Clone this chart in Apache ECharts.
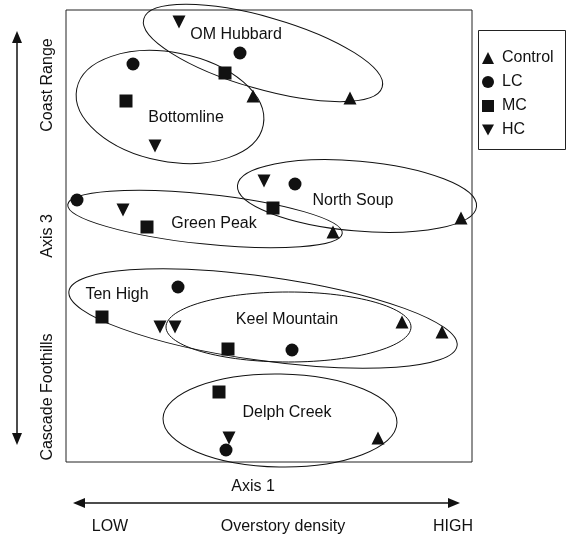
<!DOCTYPE html>
<html>
<head>
<meta charset="utf-8">
<script src="https://cdn.jsdelivr.net/npm/echarts@6/dist/echarts.min.js"></script>
<style>
html,body{margin:0;padding:0;background:#fff;}
#chart{width:566px;height:536px;}
</style>
</head>
<body>
<div id="chart"></div>
<script>
// Sites (order used in all arrays)
var sites = ['OM Hubbard','Bottomline','North Soup','Green Peak','Ten High','Keel Mountain','Delph Creek'];
// Ordination scores: [Axis 1, Axis 3] per site, one array per treatment
var controlPts = [[0.81,1.38],[-0.16,1.40],[1.92,0.18],[0.64,0.04],[1.73,-0.96],[1.33,-0.86],[1.09,-2.02]];
var lcPts      = [[-0.29,1.83],[-1.36,1.72],[0.26,0.52],[-1.92,0.36],[-0.91,-0.51],[0.23,-1.14],[-0.43,-2.14]];
var mcPts      = [[-0.44,1.63],[-1.43,1.35],[0.04,0.28],[-1.22,0.09],[-1.67,-0.81],[-0.41,-1.13],[-0.50,-1.56]];
var hcPts      = [[-0.90,2.14],[-1.14,0.90],[-0.05,0.55],[-1.46,0.26],[-1.09,-0.91],[-0.94,-0.91],[-0.40,-2.02]];
// Site ellipses: centre, semi-axes (data units) and tilt (degrees)
var ellCx    = [-0.06,-0.99,0.88,-0.64,-0.06,0.195,0.11];
var ellCy    = [1.83,1.29,0.40,0.17,-0.825,-0.91,-1.845];
var ellA     = [1.24,0.95,1.20,1.38,1.96,1.225,1.17];
var ellB     = [0.36,0.545,0.35,0.25,0.42,0.35,0.465];
var ellAngle = [-16,-11,-5,-6,-8,0,-1];
// Site label anchor positions
var labelPos = [[-0.33,2.01],[-0.83,1.18],[0.84,0.35],[-0.55,0.12],[-1.52,-0.59],[0.18,-0.84],[0.18,-1.77]];
var treatments = ['Control','LC','MC','HC'];
var axis1Range = [-2.03, 2.03];
var axis3Range = [-2.26, 2.26];

var FONT = '"Liberation Sans", Arial, Helvetica, sans-serif';
var INK = '#111';
var HC_PATH = 'path://M0,0 L10,0 L5,9 Z';

var ellData = sites.map(function(s,i){ return [ellCx[i], ellCy[i], ellA[i], ellB[i], ellAngle[i]]; });
var labelData = sites.map(function(s,i){ return {name:s, value:labelPos[i]}; });

var chart = echarts.init(document.getElementById('chart'), null, {renderer:'canvas'});

function arrowH(x1,x2,y){
  return [
    {type:'line', shape:{x1:x1+6,y1:y,x2:x2-6,y2:y}, style:{stroke:INK,lineWidth:1.5}},
    {type:'polygon', shape:{points:[[x1,y],[x1+12,y-5],[x1+12,y+5]]}, style:{fill:INK}},
    {type:'polygon', shape:{points:[[x2,y],[x2-12,y-5],[x2-12,y+5]]}, style:{fill:INK}}
  ];
}
function arrowV(x,y1,y2){
  return [
    {type:'line', shape:{x1:x,y1:y1+6,x2:x,y2:y2-6}, style:{stroke:INK,lineWidth:1.5}},
    {type:'polygon', shape:{points:[[x,y1],[x-5,y1+12],[x+5,y1+12]]}, style:{fill:INK}},
    {type:'polygon', shape:{points:[[x,y2],[x-5,y2-12],[x+5,y2-12]]}, style:{fill:INK}}
  ];
}
function txt(t,x,y,rot,size){
  return {type:'text', x:x, y:y, rotation:rot||0,
    style:{text:t, fill:INK, font:(size||16)+'px '+FONT, align:'center', verticalAlign:'middle'}};
}

var graphics = []
  .concat(arrowV(17,31,445))
  .concat(arrowH(73,460,503))
  .concat([
    txt('Coast Range',48,85,Math.PI/2),
    txt('Axis 3',48,236,Math.PI/2),
    txt('Cascade Foothills',48,397,Math.PI/2),
    txt('Axis 1',253,487,0),
    txt('LOW',110,527,0),
    txt('Overstory density',283,527,0),
    txt('HIGH',453,527,0),
    {type:'rect', shape:{x:478.5,y:30.5,width:87,height:119}, style:{fill:null,stroke:'#222',lineWidth:1}}
  ]);

function scatterSeries(name, data, symbol, size){
  return {
    name:name, type:'scatter', data:data, symbol:symbol, symbolSize:size,
    itemStyle:{color:INK, opacity:1}, clip:false, z:5, silent:true
  };
}

var option = {
  animation:false,
  backgroundColor:'#fff',
  grid:{left:66, top:10, width:406, height:452, show:true, borderColor:'#222', borderWidth:1, backgroundColor:'transparent'},
  xAxis:{type:'value', min:axis1Range[0], max:axis1Range[1], show:false},
  yAxis:{type:'value', min:axis3Range[0], max:axis3Range[1], show:false},
  legend:{
    orient:'vertical', left:482, top:50, itemWidth:12, itemHeight:12, itemGap:8,
    padding:0, selectedMode:false,
    textStyle:{fontFamily:FONT, fontSize:16, color:INK, padding:[0,0,0,3]},
    data:[
      {name:'Control', icon:'triangle'},
      {name:'LC', icon:'circle'},
      {name:'MC', icon:'rect'},
      {name:'HC', icon:HC_PATH}
    ]
  },
  graphic:graphics,
  series:[
    {
      type:'custom', name:'ellipses', data:ellData, clip:false, silent:true, z:2,
      renderItem:function(params, api){
        var c = api.coord([api.value(0), api.value(1)]);
        var rx = api.size([api.value(2), 0])[0];
        var ry = api.size([0, api.value(3)])[1];
        return {
          type:'ellipse', x:c[0], y:c[1], rotation:api.value(4)*Math.PI/180,
          shape:{cx:0, cy:0, rx:rx, ry:ry},
          style:{fill:null, stroke:INK, lineWidth:1}
        };
      }
    },
    {
      type:'scatter', name:'labels', data:labelData, symbolSize:1, clip:false, silent:true, z:4,
      itemStyle:{color:'rgba(0,0,0,0)', opacity:1},
      label:{show:true, position:'inside', formatter:'{b}', fontFamily:FONT, fontSize:16, color:INK}
    },
    scatterSeries('Control', controlPts, 'triangle', 13),
    scatterSeries('LC', lcPts, 'circle', 13),
    scatterSeries('MC', mcPts, 'rect', 13),
    scatterSeries('HC', hcPts, HC_PATH, 13)
  ]
};
chart.setOption(option);
</script>
</body>
</html>
